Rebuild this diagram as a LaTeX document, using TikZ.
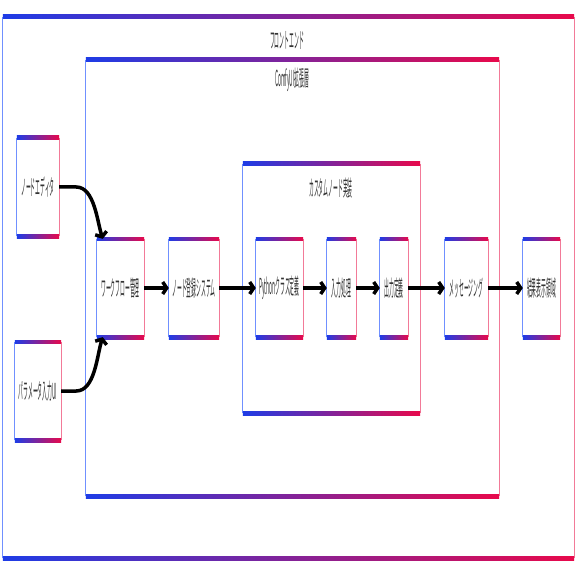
\documentclass[tikz,border=0pt]{standalone}
\usepackage{fontspec}
\newfontfamily\cjk{Noto Sans CJK JP}
\usetikzlibrary{arrows.meta}
\definecolor{gblue}{HTML}{1E3CE6}
\definecolor{gred}{HTML}{E8094B}
\definecolor{sblue}{HTML}{7090FF}
\definecolor{spink}{HTML}{F27A98}
% squeezed label text
\newcommand{\sq}[1]{\scalebox{0.23}[1.05]{#1}}
% frame with gradient top and bottom
\newcommand{\gframe}[1]{%
  \draw[sblue,line width=1pt] (#1.south west) -- (#1.north west);
  \draw[spink,line width=1pt] (#1.south east) -- (#1.north east);
  \shade[left color=gblue,right color=gred] ([yshift=1.8pt]#1.north west) rectangle ([yshift=-1.8pt]#1.north east);
  \shade[left color=gblue,right color=gred] ([yshift=1.8pt]#1.south west) rectangle ([yshift=-1.8pt]#1.south east);
}
\tikzset{
  part/.style={inner sep=0pt,minimum height=98pt,text=black!80,font=\cjk\fontsize{21}{21}\selectfont},
  group/.style={inner sep=0pt},
  title/.style={inner sep=0pt,text=black!80,font=\cjk\fontsize{21}{21}\selectfont},
  flow/.style={line width=3.5pt,-{Straight Barb[length=4pt,width=12pt]}},
}
\begin{document}
\begin{tikzpicture}[x=1pt,y=-1pt]
	\useasboundingbox[fill=white] (0,0) rectangle (577,577);

	% groups
	\node[group,minimum width=571pt,minimum height=541pt] (outer) at (288.5,287.5) {};
	\node[group,minimum width=413pt,minimum height=436pt] (comfy) at (292.5,278) {};
	\node[group,minimum width=177pt,minimum height=249pt] (custom) at (331.5,288.5) {};
	\gframe{outer} \gframe{comfy} \gframe{custom}
	\node[title] (outerT) at (287,40) {\sq{フロントエンド}};
	\node[title] (comfyT) at (292,80) {\sq{ComfyUI拡張層}};
	\node[title] (customT) at (331,188) {\sq{カスタムノード実装}};

	% parts
	\node[part,minimum width=42pt] (editor) at (38,187) {\sq{ノードエディタ}};
	\node[part,minimum width=46pt] (param) at (38,391) {\sq{パラメータ入力UI}};
	\node[part,minimum width=47pt] (wf) at (120.5,288) {\sq{ワークフロー管理}};
	\node[part,minimum width=50pt] (reg) at (194,288) {\sq{ノード登録システム}};
	\node[part,minimum width=47pt] (py) at (279.5,288) {\sq{Pythonクラス定義}};
	\node[part,minimum width=29pt] (inp) at (341.5,288) {\sq{入力処理}};
	\node[part,minimum width=28pt] (outp) at (394,288) {\sq{出力定義}};
	\node[part,minimum width=43pt] (msg) at (466.5,288) {\sq{メッセージング}};
	\node[part,minimum width=37pt] (res) at (541.5,288) {\sq{結果表示領域}};
	\gframe{editor} \gframe{param} \gframe{wf} \gframe{reg} \gframe{py}
	\gframe{inp} \gframe{outp} \gframe{msg} \gframe{res}

	% flows
	\draw[flow] (editor.east) -- ++(17,0) to[out=0,in=108,looseness=0.8] ([xshift=6pt]wf.north west);
	\draw[flow] (param.east) -- ++(15,0) to[out=0,in=-108,looseness=0.8] ([xshift=6pt]wf.south west);
	\draw[flow] (wf) -- (reg); \draw[flow] (reg) -- (py); \draw[flow] (py) -- (inp);
	\draw[flow] (inp) -- (outp); \draw[flow] (outp) -- (msg); \draw[flow] (msg) -- (res);
\end{tikzpicture}
\end{document}
